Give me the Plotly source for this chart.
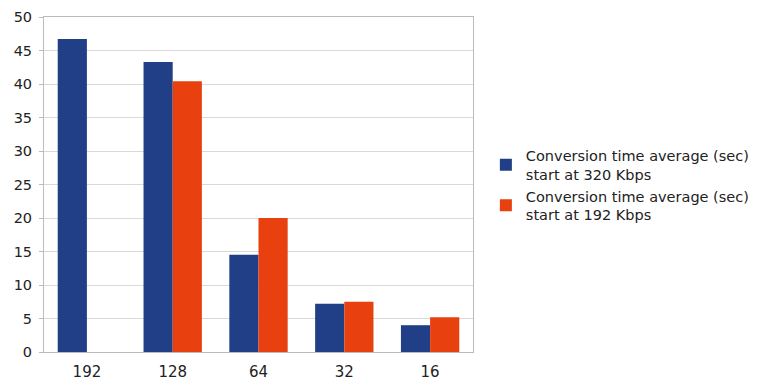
import plotly.graph_objects as go

categories = ["192", "128", "64", "32", "16"]
series_320 = [46.7, 43.3, 14.5, 7.2, 4.0]
series_192 = [0, 40.4, 20.0, 7.5, 5.2]
name_320 = "Conversion time average (sec)<br>start at 320 Kbps"
name_192 = "Conversion time average (sec)<br>start at 192 Kbps"

fig = go.Figure()
fig.add_trace(go.Bar(x=categories, y=series_320, name=name_320,
                     marker=dict(color="#213f87", line=dict(width=0))))
fig.add_trace(go.Bar(x=categories, y=series_192, name=name_192,
                     marker=dict(color="#e8410f", line=dict(width=0))))

fig.update_layout(
    width=756, height=379,
    margin=dict(l=36, r=291, t=9, b=35),
    barmode="group", bargap=0.32, bargroupgap=0,
    plot_bgcolor="white", paper_bgcolor="white",
    font=dict(family="DejaVu Sans, sans-serif", size=15, color="#222"),
    legend=dict(x=1.03, y=0.635, xanchor="left", yanchor="top",
                font=dict(size=14.5, color="#222"), tracegroupgap=5,
                itemwidth=30),
    showlegend=True,
)
fig.update_xaxes(showgrid=False, showline=True, linecolor="#bbbbbb", mirror=True,
                 ticks="outside", ticklen=6, tickcolor="rgba(0,0,0,0)",
                 tickfont=dict(size=15), ticklabeloverflow="allow",
                 automargin=False)
fig.update_yaxes(range=[0, 50], dtick=5, showgrid=True, gridcolor="#d9d9d9",
                 showline=True, linecolor="#bbbbbb", mirror=True,
                 ticks="outside", ticklen=4, tickcolor="#bbbbbb",
                 ticklabelstandoff=4, ticklabeloverflow="allow",
                 tickfont=dict(size=14.5), zeroline=False, automargin=False)

fig.write_html("out.html")
